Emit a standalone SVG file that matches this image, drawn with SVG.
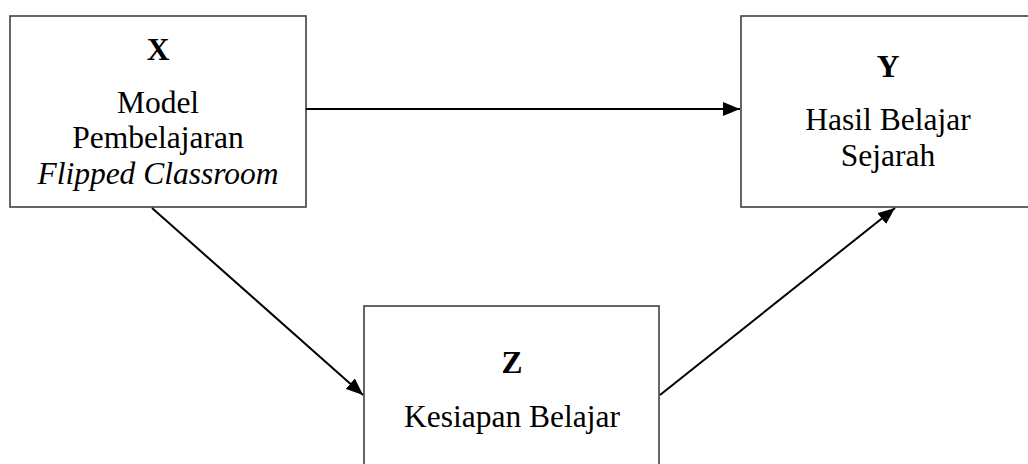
<svg xmlns="http://www.w3.org/2000/svg" width="1028" height="464" viewBox="0 0 1028 464">
<style>
.box{fill:#fff;stroke:#404040;stroke-width:1.6}
.t{font-family:"Liberation Serif","Times New Roman",serif;font-size:31.5px;fill:#000;text-anchor:middle}
.b{font-weight:bold}
.i{font-style:italic}
.c{stroke:#000;stroke-width:2;fill:none;marker-end:url(#ah)}
</style>
<defs>
<marker id="ah" markerUnits="userSpaceOnUse" markerWidth="18" markerHeight="14" refX="17" refY="7" orient="auto">
<path d="M0,0 L17,7 L0,14 Z" fill="#000"/>
</marker>
</defs>
<rect width="1028" height="464" fill="#fff"/>
<g id="nodeX">
<rect class="box" x="10" y="16" width="296" height="191"/>
<text class="t b" x="158" y="60">X</text>
<text class="t" x="158" y="113">Model</text>
<text class="t" x="158" y="148">Pembelajaran</text>
<text class="t i" x="158" y="184">Flipped Classroom</text>
</g>
<g id="nodeY">
<rect class="box" x="741" y="16" width="294" height="191"/>
<text class="t b" x="888" y="77">Y</text>
<text class="t" x="888" y="130">Hasil Belajar</text>
<text class="t" x="888" y="166">Sejarah</text>
</g>
<g id="nodeZ">
<rect class="box" x="364" y="306" width="295" height="170"/>
<text class="t b" x="512" y="373">Z</text>
<text class="t" x="512" y="427">Kesiapan Belajar</text>
</g>
<g id="connectors">
<line class="c" x1="306" y1="109" x2="740" y2="109"/>
<line class="c" x1="152" y1="208" x2="363" y2="395"/>
<line class="c" x1="660" y1="395" x2="895" y2="208"/>
</g>
</svg>
